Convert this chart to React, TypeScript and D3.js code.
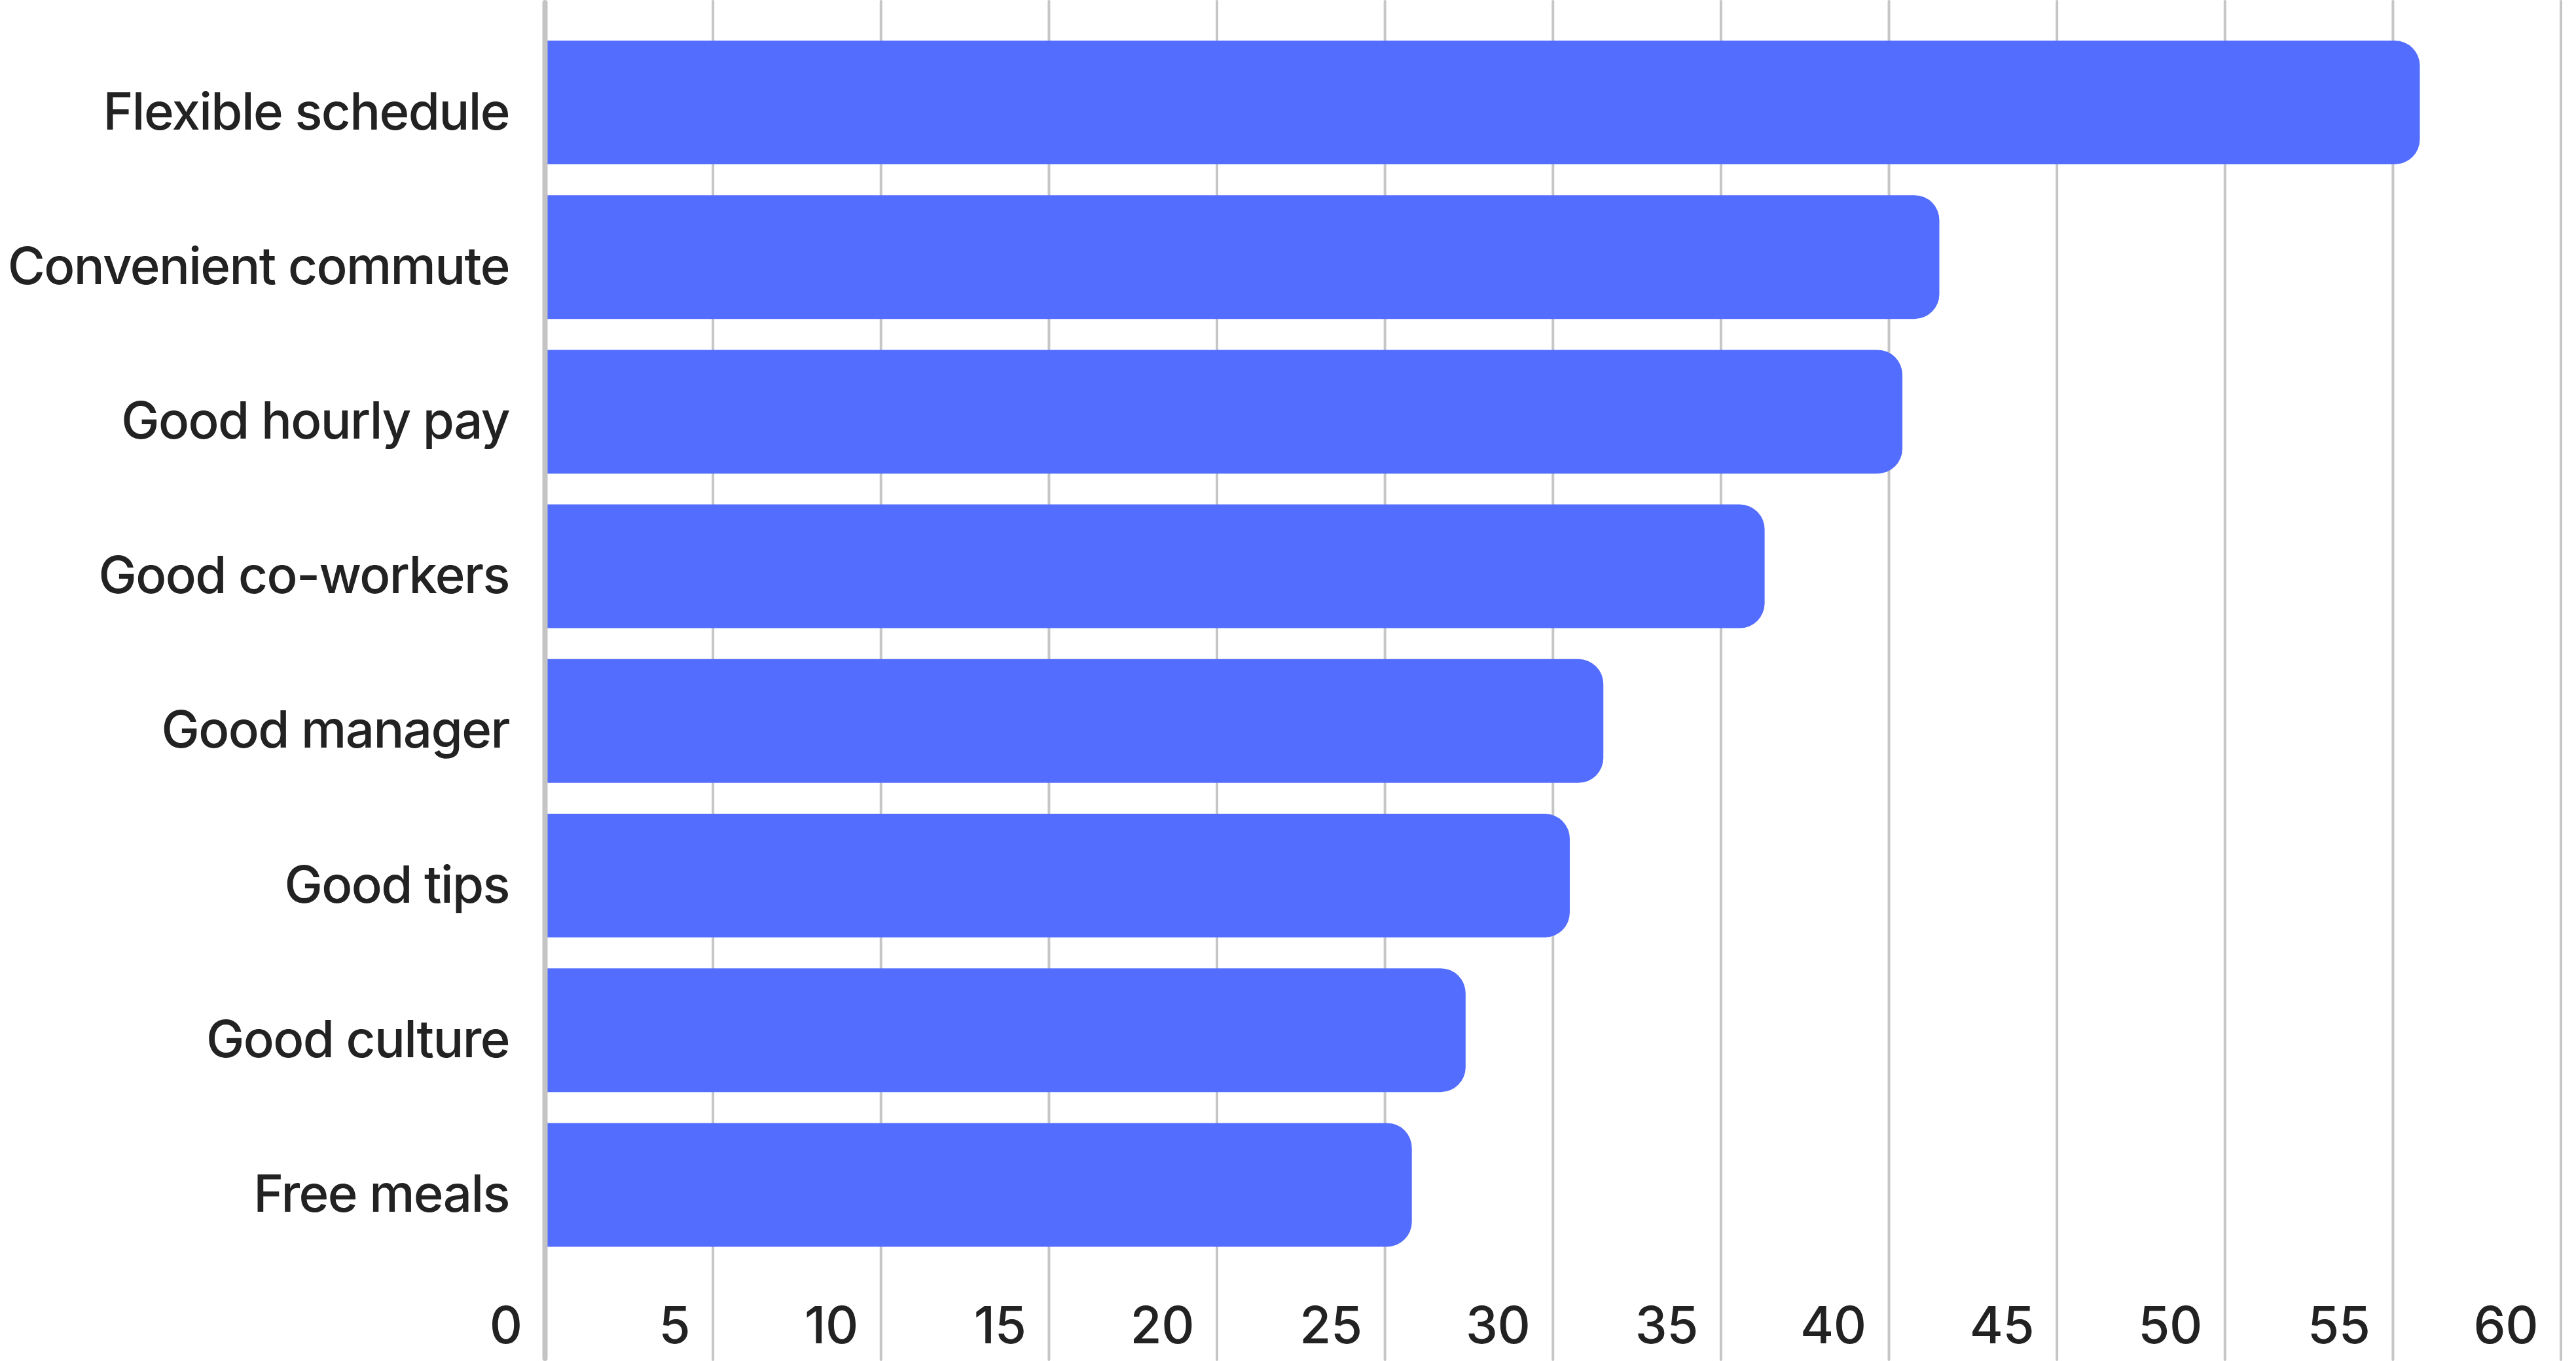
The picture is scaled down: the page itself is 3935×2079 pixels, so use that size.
import React, { useEffect } from 'react';
import * as d3 from 'd3';

const categories = [
  'Flexible schedule',
  'Convenient commute',
  'Good hourly pay',
  'Good co-workers',
  'Good manager',
  'Good tips',
  'Good culture',
  'Free meals',
];

const values = [55.8, 41.5, 40.4, 36.3, 31.5, 30.5, 27.4, 25.8];

const xMax = 60;
const tickStep = 5;

const width = 3935;
const height = 2079;

// right side rounded only, left edge sits on the axis
function barPath(x0: number, x1: number, y0: number, h: number, r: number) {
  const rr = Math.min(r, (x1 - x0) / 2, h / 2);
  const y1 = y0 + h;
  return `M${x0},${y0}H${x1 - rr}A${rr},${rr} 0 0 1 ${x1},${y0 + rr}V${y1 - rr}A${rr},${rr} 0 0 1 ${x1 - rr},${y1}H${x0}Z`;
}

const App: React.FC = () => {
  useEffect(() => {
    document.body.style.margin = '0';
  }, []);

  const x = d3.scaleLinear().domain([0, xMax]).range([832.5, 3912]);
  const y = d3
    .scaleBand<string>()
    .domain(categories)
    .range([38.4, 1928])
    .paddingInner(0.2)
    .paddingOuter(0.1);

  const ticks = d3.range(0, xMax + tickStep, tickStep);
  const font = 'Inter, "Noto Sans", sans-serif';

  return (
    <svg width={width} height={height} style={{ display: 'block', background: '#fff' }}>
      {/* vertical gridlines */}
      <g>
        {ticks.slice(1).map(t => (
          <line
            key={t}
            x1={x(t)}
            x2={x(t)}
            y1={2}
            y2={2077}
            stroke="#c6c6c6"
            strokeWidth={4}
            strokeLinecap="round"
          />
        ))}
      </g>

      {/* bars */}
      <g>
        {categories.map((c, i) => (
          <path
            key={c}
            d={barPath(x(0), x(values[i]), y(c)!, y.bandwidth(), 38)}
            fill="#536dfe"
          />
        ))}
      </g>

      {/* zero axis */}
      <line
        x1={x(0)}
        x2={x(0)}
        y1={4}
        y2={2075}
        stroke="#c4c4c4"
        strokeWidth={8}
        strokeLinecap="round"
      />

      {/* category labels */}
      <g
        fontFamily={font}
        fontSize={78}
        fontWeight={500}
        fill="#222"
        textAnchor="end"
        letterSpacing={-1.6}
      >
        {categories.map(c => (
          <text key={c} x={778} y={y(c)! + y.bandwidth() / 2 + 41}>
            {c}
          </text>
        ))}
      </g>

      {/* x tick labels */}
      <g
        fontFamily={font}
        fontSize={78}
        fontWeight={500}
        fill="#222"
        textAnchor="end"
        letterSpacing={-0.5}
      >
        {ticks.map(t => (
          <text key={t} x={x(t) - 35} y={2052}>
            {t}
          </text>
        ))}
      </g>
    </svg>
  );
};

export default App;
